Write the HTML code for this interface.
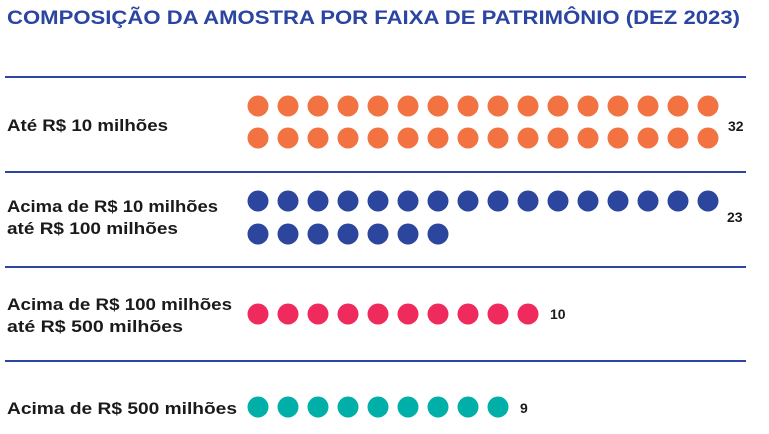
<!DOCTYPE html>
<html><head><meta charset="utf-8"><style>
body{margin:0;background:#fff;}
svg{display:block;font-family:"Liberation Sans",sans-serif;}
</style></head><body>
<svg width="769" height="434" viewBox="0 0 769 434">
<text x="7" y="24" font-size="19" font-weight="bold" fill="#2b45a0" textLength="733" lengthAdjust="spacingAndGlyphs">COMPOSIÇÃO DA AMOSTRA POR FAIXA DE PATRIMÔNIO (DEZ 2023)</text>
<g stroke="#2b45a0" stroke-width="2">
<line x1="5" y1="77" x2="746" y2="77"/>
<line x1="5" y1="172" x2="746" y2="172"/>
<line x1="5" y1="267" x2="746" y2="267"/>
<line x1="5" y1="361" x2="746" y2="361"/>
</g>
<g font-size="16.5" font-weight="bold" fill="#1a1a1a" lengthAdjust="spacingAndGlyphs">
<text x="7" y="131" textLength="161" lengthAdjust="spacingAndGlyphs">Até R$ 10 milhões</text>
<text x="7" y="212" textLength="211" lengthAdjust="spacingAndGlyphs">Acima de R$ 10 milhões</text>
<text x="7" y="234" textLength="171" lengthAdjust="spacingAndGlyphs">até R$ 100 milhões</text>
<text x="7" y="310" textLength="225" lengthAdjust="spacingAndGlyphs">Acima de R$ 100 milhões</text>
<text x="7" y="332" textLength="176" lengthAdjust="spacingAndGlyphs">até R$ 500 milhões</text>
<text x="7" y="414" textLength="230" lengthAdjust="spacingAndGlyphs">Acima de R$ 500 milhões</text>
</g>
<g font-size="14" font-weight="bold" fill="#1a1a1a">
<text x="728" y="131">32</text>
<text x="727" y="222">23</text>
<text x="550" y="319">10</text>
<text x="520" y="413">9</text>
</g>
<g id="dots"></g>
</svg>
<script>
var g=document.getElementById('dots'),ns='http://www.w3.org/2000/svg';
function row(y,n,c){for(var i=0;i<n;i++){var e=document.createElementNS(ns,'circle');e.setAttribute('cx',258+30*i);e.setAttribute('cy',y);e.setAttribute('r',10.5);e.setAttribute('fill',c);g.appendChild(e);}}
row(106,16,'#f27242');row(138,16,'#f27242');
row(201,16,'#2b469c');row(234,7,'#2b469c');
row(314,10,'#ef2a5d');
row(407,9,'#00b0a8');
</script>
</body></html>
